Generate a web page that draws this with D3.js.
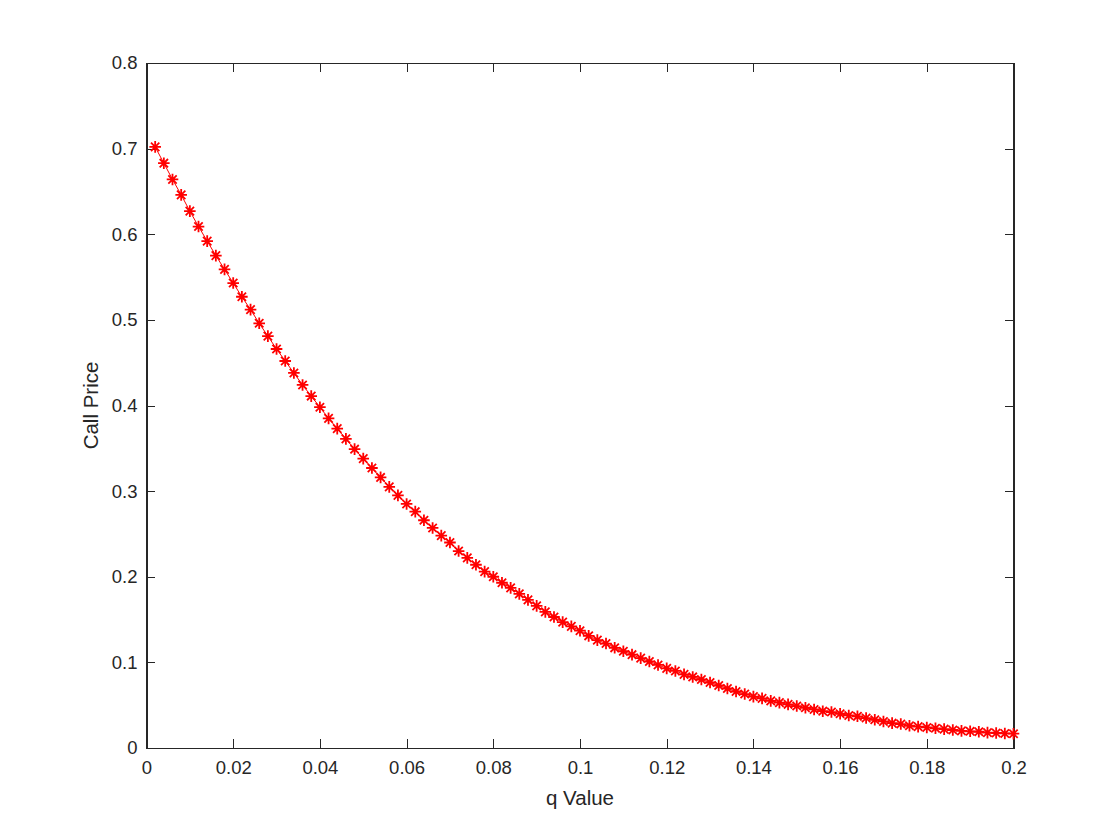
<!DOCTYPE html>
<html>
<head>
<meta charset="utf-8">
<script src="https://cdn.jsdelivr.net/npm/d3@7"></script>
<style>
  html, body { margin: 0; padding: 0; background: #ffffff; }
  svg { display: block; }
</style>
</head>
<body>
<svg id="chart" width="1120" height="840"></svg>
<script>
// ---- data ----
const qValues = [
  0.002,0.004,0.006,0.008,0.010,0.012,0.014,0.016,0.018,0.020,
  0.022,0.024,0.026,0.028,0.030,0.032,0.034,0.036,0.038,0.040,
  0.042,0.044,0.046,0.048,0.050,0.052,0.054,0.056,0.058,0.060,
  0.062,0.064,0.066,0.068,0.070,0.072,0.074,0.076,0.078,0.080,
  0.082,0.084,0.086,0.088,0.090,0.092,0.094,0.096,0.098,0.100,
  0.102,0.104,0.106,0.108,0.110,0.112,0.114,0.116,0.118,0.120,
  0.122,0.124,0.126,0.128,0.130,0.132,0.134,0.136,0.138,0.140,
  0.142,0.144,0.146,0.148,0.150,0.152,0.154,0.156,0.158,0.160,
  0.162,0.164,0.166,0.168,0.170,0.172,0.174,0.176,0.178,0.180,
  0.182,0.184,0.186,0.188,0.190,0.192,0.194,0.196,0.198,0.200
];
const callPrices = [
  0.702,0.683,0.664,0.646,0.627,0.609,0.592,0.575,0.559,0.543,
  0.527,0.512,0.496,0.481,0.466,0.452,0.438,0.424,0.411,0.398,
  0.385,0.373,0.361,0.349,0.338,0.327,0.316,0.305,0.295,0.285,
  0.276,0.266,0.257,0.248,0.240,0.230,0.222,0.214,0.206,0.200,
  0.193,0.187,0.180,0.173,0.166,0.159,0.153,0.147,0.142,0.137,
  0.131,0.126,0.122,0.117,0.113,0.109,0.105,0.101,0.097,0.093,
  0.090,0.086,0.083,0.080,0.0765,0.073,0.0695,0.066,0.063,0.060,
  0.058,0.055,0.053,0.051,0.049,0.047,0.045,0.043,0.042,0.040,
  0.038,0.037,0.035,0.033,0.031,0.029,0.028,0.026,0.025,0.024,
  0.023,0.022,0.021,0.020,0.0195,0.019,0.018,0.0175,0.017,0.0167
];
const xTicks = [0,0.02,0.04,0.06,0.08,0.1,0.12,0.14,0.16,0.18,0.2];
const yTicks = [0,0.1,0.2,0.3,0.4,0.5,0.6,0.7,0.8];
const xLabel = "q Value";
const yLabel = "Call Price";

// ---- layout ----
const plotL = 146.5, plotR = 1013.5, plotT = 63, plotB = 748;
const axisColor = "#262626";
const font = "'Liberation Sans', Arial, Helvetica, sans-serif";
const tickLen = 8.7;

const svg = d3.select("#chart");
const x = d3.scaleLinear().domain([0, 0.2]).range([plotL, plotR]);
const y = d3.scaleLinear().domain([0, 0.8]).range([plotB, plotT]);

const fmt = d => String(+d.toFixed(3));

// box
svg.append("rect")
  .attr("x", plotL).attr("y", plotT)
  .attr("width", plotR - plotL).attr("height", plotB - plotT)
  .attr("fill", "#ffffff").attr("stroke", axisColor).attr("stroke-width", 1)
  .attr("shape-rendering", "crispEdges");

// axes (ticks pointing inward)
const gx = svg.append("g").attr("transform", `translate(0,${plotB})`)
  .call(d3.axisBottom(x).tickValues(xTicks).tickFormat(fmt).tickSizeInner(-tickLen).tickSizeOuter(0).tickPadding(13));
const gxTop = svg.append("g").attr("transform", `translate(0,${plotT})`)
  .call(d3.axisTop(x).tickValues(xTicks).tickFormat("").tickSizeInner(-tickLen).tickSizeOuter(0));
const gy = svg.append("g").attr("transform", `translate(${plotL},0)`)
  .call(d3.axisLeft(y).tickValues(yTicks).tickFormat(fmt).tickSizeInner(-tickLen).tickSizeOuter(0).tickPadding(9));
const gyRight = svg.append("g").attr("transform", `translate(${plotR},0)`)
  .call(d3.axisRight(y).tickValues(yTicks).tickFormat("").tickSizeInner(-tickLen).tickSizeOuter(0));

[gx, gxTop, gy, gyRight].forEach(g => {
  g.select(".domain").attr("stroke", axisColor).attr("shape-rendering", "crispEdges");
  g.selectAll(".tick line").attr("stroke", axisColor).attr("shape-rendering", "crispEdges");
  g.selectAll(".tick text").attr("fill", axisColor)
    .style("font-family", font).style("font-size", "18.5px");
});

// axis labels
svg.append("text")
  .attr("x", (plotL + plotR) / 2).attr("y", 805)
  .attr("text-anchor", "middle")
  .attr("fill", axisColor)
  .style("font-family", font).style("font-size", "20.5px")
  .text(xLabel);
svg.append("text")
  .attr("transform", `translate(98,${(plotT + plotB) / 2}) rotate(-90)`)
  .attr("text-anchor", "middle")
  .attr("fill", axisColor)
  .style("font-family", font).style("font-size", "20.5px")
  .text(yLabel);

// data
const data = qValues.map((q, i) => ({ q, v: callPrices[i] }));

svg.append("path")
  .datum(data)
  .attr("fill", "none")
  .attr("stroke", "#ff0000")
  .attr("stroke-width", 1)
  .attr("d", d3.line().x(d => x(d.q)).y(d => y(d.v)));

const r = 5.8, rd = r * 0.72;
const starPath = `M${-r},0L${r},0M0,${-r}L0,${r}M${-rd},${-rd}L${rd},${rd}M${-rd},${rd}L${rd},${-rd}`;
svg.append("g").selectAll("path")
  .data(data)
  .join("path")
  .attr("transform", d => `translate(${x(d.q)},${y(d.v)})`)
  .attr("d", starPath)
  .attr("fill", "none")
  .attr("stroke", "#ff0000")
  .attr("stroke-width", 1.8);
</script>
</body>
</html>
